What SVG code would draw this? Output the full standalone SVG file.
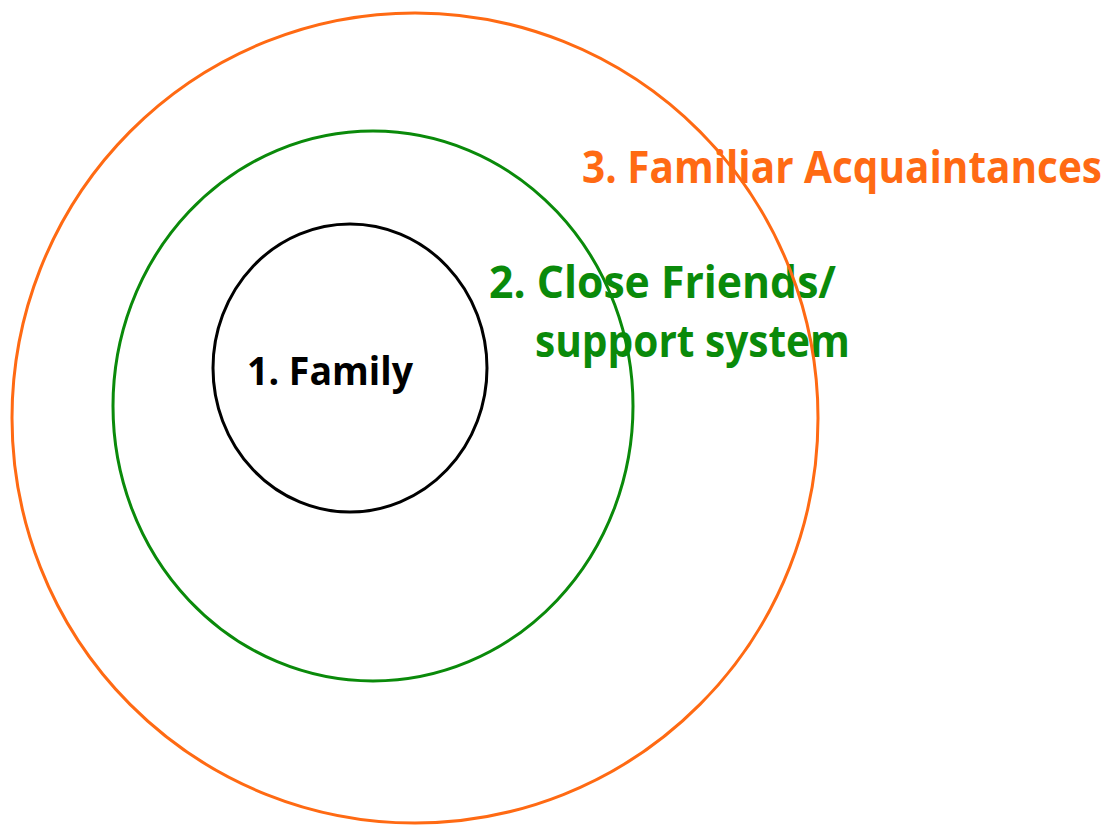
<svg xmlns="http://www.w3.org/2000/svg" width="1115" height="825" viewBox="0 0 1115 825">
<style>
text{font-family:"Open Sans","Liberation Sans",sans-serif;font-weight:bold;}
.ring{fill:none;stroke-width:3;}
</style>
<rect width="1115" height="825" fill="#ffffff"/>
<g id="label-3">
<text x="582" y="183" font-size="44" fill="#FF6A13" textLength="520" lengthAdjust="spacingAndGlyphs">3. Familiar Acquaintances</text>
</g>
<g id="label-2">
<text x="489" y="298" font-size="44" fill="#0A8A0A" textLength="347" lengthAdjust="spacingAndGlyphs">2. Close Friends/</text>
<text x="535" y="357" font-size="44" fill="#0A8A0A" textLength="315" lengthAdjust="spacingAndGlyphs">support system</text>
</g>
<g id="label-1">
<text x="247" y="385" font-size="40" fill="#000000" textLength="166" lengthAdjust="spacingAndGlyphs">1. Family</text>
</g>
<g id="ring-3"><ellipse class="ring" cx="415" cy="418" rx="403" ry="405" stroke="#FF6A13"/></g>
<g id="ring-2"><ellipse class="ring" cx="373" cy="406" rx="260" ry="275" stroke="#0A8A0A"/></g>
<g id="ring-1"><ellipse class="ring" cx="350" cy="368" rx="137" ry="144" stroke="#000000"/></g>
<g id="connectors"></g>
</svg>
